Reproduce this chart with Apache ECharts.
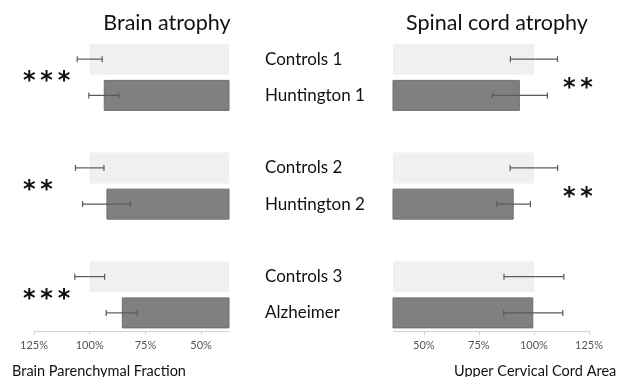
<!DOCTYPE html>
<html>
<head>
<meta charset="utf-8">
<script src="https://cdn.jsdelivr.net/npm/echarts@6/dist/echarts.min.js"></script>
<style>
  html, body { margin: 0; padding: 0; background: #fff; }
  #chart { width: 617px; height: 377px; }
</style>
</head>
<body>
<div id="chart"></div>
<script>
// Group labels, top to bottom
const categories = ['Controls 1', 'Huntington 1', 'Controls 2', 'Huntington 2', 'Controls 3', 'Alzheimer'];
// Brain parenchymal fraction (% of controls) and error half-widths
const brainValues = [100, 93.7, 100, 92.5, 100, 85.6];
const brainErrors = [5.6, 6.7, 6.4, 10.7, 6.7, 7.0];
// Upper cervical cord area (% of controls) and error half-widths
const cordValues = [100, 93.6, 100, 90.8, 100, 99.7];
const cordErrors = [10.7, 12.5, 10.8, 7.6, 13.6, 13.4];
// Significance marks for each pair
const brainStars = ['***', '**', '***'];
const cordStars = ['**', '**', ''];
// Axis tick values
const tickValues = [50, 75, 100, 125];

const FONT = 'Lato';
const TEXT = '#111';
const LIGHT = '#f0f0f0';
const DARK = '#808080';

// Rows on the category axis: each pair followed by an empty spacer row
const rows = [];
const rowOf = [];
categories.forEach((c, i) => {
  rowOf.push(rows.length);
  rows.push(c);
  if (i % 2 === 1 && i < categories.length - 1) rows.push('spacer' + i);
});

function barData(values) {
  const out = rows.map(() => '-');
  values.forEach((v, i) => {
    const isControl = i % 2 === 0;
    out[rowOf[i]] = {
      value: v,
      itemStyle: isControl
        ? { color: LIGHT }
        : { color: DARK, borderColor: '#6e6e6e', borderWidth: 1 }
    };
  });
  return out;
}

function errData(values, errors) {
  return values.map((v, i) => [v, rowOf[i], errors[i]]);
}

function renderError(params, api) {
  const v = api.value(0), row = api.value(1), e = api.value(2);
  const lo = api.coord([v - e, row]);
  const hi = api.coord([v + e, row]);
  const cap = 3;
  const style = { stroke: '#5a5a5a', lineWidth: 1.2 };
  return {
    type: 'group',
    children: [
      { type: 'line', shape: { x1: lo[0], y1: lo[1], x2: hi[0], y2: hi[1] }, style },
      { type: 'line', shape: { x1: lo[0], y1: lo[1] - cap, x2: lo[0], y2: lo[1] + cap }, style },
      { type: 'line', shape: { x1: hi[0], y1: hi[1] - cap, x2: hi[0], y2: hi[1] + cap }, style }
    ]
  };
}

function valueAxis(gridIndex, min, inverse) {
  return {
    type: 'value',
    gridIndex,
    min,
    max: 125,
    inverse,
    splitLine: { show: false },
    axisLine: { show: true, lineStyle: { color: '#d4d4d4', width: 1 } },
    axisTick: { show: true, customValues: tickValues, length: 4, lineStyle: { color: '#d4d4d4' } },
    axisLabel: {
      customValues: tickValues,
      formatter: '{value}%',
      fontFamily: FONT,
      fontSize: 11,
      color: '#555',
      margin: 9
    }
  };
}

const chart = echarts.init(document.getElementById('chart'), null, { renderer: 'canvas' });

chart.setOption({
  backgroundColor: '#fff',
  animation: false,
  title: [
    { text: 'Brain atrophy', left: 162, top: 7, textAlign: 'center',
      textStyle: { fontFamily: FONT, fontSize: 21.5, fontWeight: 'normal', color: TEXT } },
    { text: 'Spinal cord atrophy', left: 492, top: 7, textAlign: 'center',
      textStyle: { fontFamily: FONT, fontSize: 21.5, fontWeight: 'normal', color: TEXT } }
  ],
  grid: [
    { left: 34, top: 41, width: 195, height: 290 },
    { left: 393, top: 41, width: 196, height: 290 }
  ],
  xAxis: [valueAxis(0, 37.5, true), valueAxis(1, 36, false)],
  yAxis: [
    { type: 'category', gridIndex: 0, data: rows, inverse: true,
      axisLine: { show: false }, axisTick: { show: false }, axisLabel: { show: false } },
    { type: 'category', gridIndex: 1, data: rows, inverse: true,
      axisLine: { show: false }, axisTick: { show: false },
      axisLabel: {
        margin: 128,
        align: 'left',
        fontFamily: FONT,
        fontSize: 17,
        color: TEXT,
        formatter: (v) => categories.includes(v) ? v : ''
      } }
  ],
  series: [
    { type: 'bar', xAxisIndex: 0, yAxisIndex: 0, data: barData(brainValues), barWidth: 31, clip: true },
    { type: 'bar', xAxisIndex: 1, yAxisIndex: 1, data: barData(cordValues), barWidth: 31, clip: true },
    { type: 'custom', xAxisIndex: 0, yAxisIndex: 0, data: errData(brainValues, brainErrors),
      renderItem: renderError, z: 5 },
    { type: 'custom', xAxisIndex: 1, yAxisIndex: 1, data: errData(cordValues, cordErrors),
      renderItem: renderError, z: 5 }
  ]
});

// Significance marks sit between the two bars of each pair
function pairCenterY(pair) {
  const a = chart.convertToPixel({ yAxisIndex: 0 }, rows[rowOf[pair * 2]]);
  const b = chart.convertToPixel({ yAxisIndex: 0 }, rows[rowOf[pair * 2 + 1]]);
  return (a + b) / 2;
}

// Stars are separated by thin spaces
const starFont = 'bold 24px "DejaVu Sans"';
const starText = (s) => s.split('').join('\u2009');
const graphics = [];
brainStars.forEach((s, i) => {
  if (!s) return;
  graphics.push({ type: 'text', x: 23, y: pairCenterY(i) + 5,
    style: { text: starText(s), font: starFont, fill: TEXT,
      textAlign: 'left', textVerticalAlign: 'middle' } });
});
cordStars.forEach((s, i) => {
  if (!s) return;
  graphics.push({ type: 'text', x: 563, y: pairCenterY(i) + 11.5,
    style: { text: starText(s), font: starFont, fill: TEXT,
      textAlign: 'left', textVerticalAlign: 'middle' } });
});
// Axis captions
graphics.push({ type: 'text', x: 12, y: 371,
  style: { text: 'Brain Parenchymal Fraction', font: '14.5px Lato', fill: TEXT,
    textAlign: 'left', textVerticalAlign: 'middle' } });
graphics.push({ type: 'text', x: 454, y: 371,
  style: { text: 'Upper Cervical Cord Area', font: '14.5px Lato', fill: TEXT,
    textAlign: 'left', textVerticalAlign: 'middle' } });

chart.setOption({ graphic: graphics });
</script>
</body>
</html>
